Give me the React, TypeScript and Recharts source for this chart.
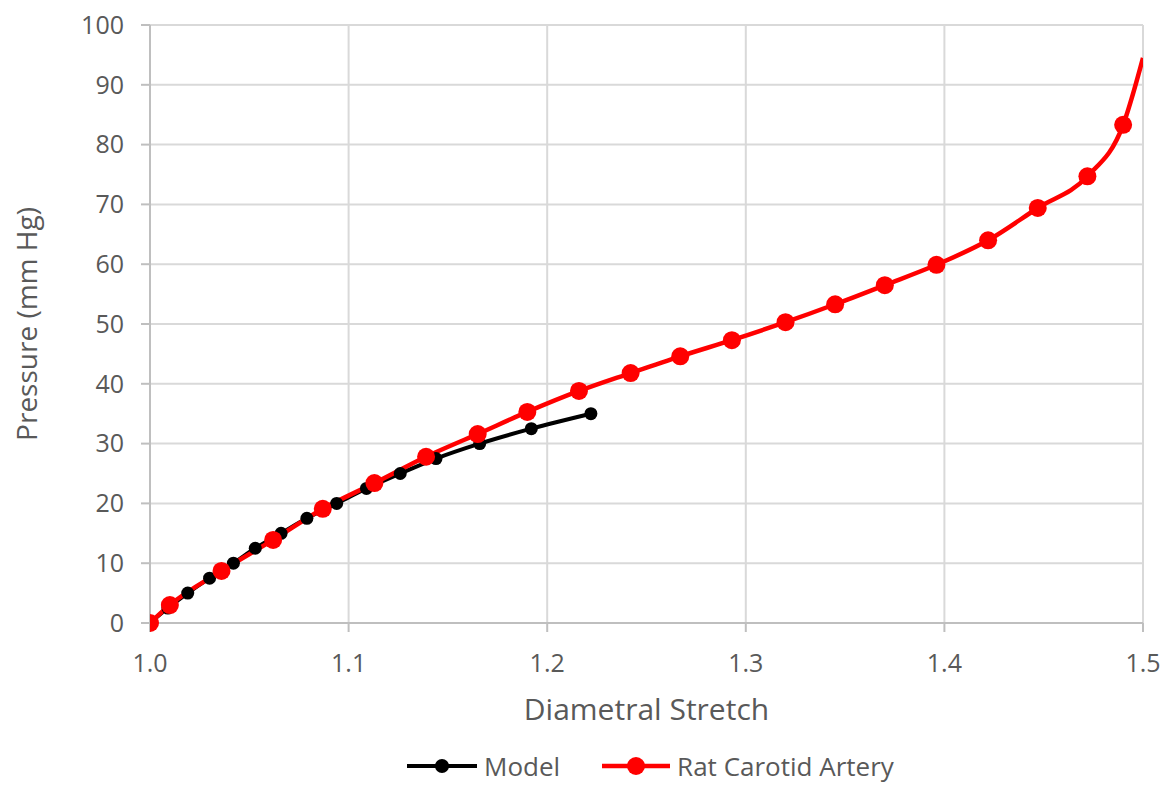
import React from 'react';
import { LineChart, Line, XAxis, YAxis, CartesianGrid, Legend } from 'recharts';

// Model curve: diametral stretch vs pressure
const modelStretch = [1.0, 1.009, 1.019, 1.03, 1.042, 1.053, 1.066, 1.079, 1.094, 1.109, 1.126, 1.144, 1.166, 1.192, 1.222];
const modelPressure = [0, 2.5, 5, 7.5, 10, 12.5, 15, 17.5, 20, 22.5, 25, 27.5, 30, 32.5, 35];

// Rat carotid artery measurements (last point is the curve end, no marker)
const ratStretch = [1.0, 1.01, 1.036, 1.062, 1.087, 1.113, 1.139, 1.165, 1.19, 1.216, 1.242, 1.267, 1.293, 1.32, 1.345, 1.37, 1.396, 1.422, 1.447, 1.472, 1.49, 1.5];
const ratPressure = [0, 3.0, 8.7, 13.9, 19.1, 23.4, 27.8, 31.6, 35.3, 38.8, 41.8, 44.6, 47.3, 50.3, 53.3, 56.5, 59.9, 64.0, 69.4, 74.7, 83.3, 94.5];

const xTicks = [1.0, 1.1, 1.2, 1.3, 1.4, 1.5];
const yTicks = [0, 10, 20, 30, 40, 50, 60, 70, 80, 90, 100];

const modelData = modelStretch.map((x, i) => ({ x, y: modelPressure[i] }));
const ratData = ratStretch.map((x, i) => ({ x, y: ratPressure[i] }));

const font = 'Open Sans, Liberation Sans, sans-serif';
const textColor = '#595959';

const LegendContent = () => (
  <div style={{ display: 'flex', alignItems: 'center', height: 63, boxSizing: 'border-box', paddingTop: 26, paddingBottom: 4, paddingLeft: 407, fontFamily: font, fontSize: 26, lineHeight: '30px', color: textColor }}>
    <svg width={70} height={20} style={{ marginRight: 7 }}>
      <line x1={0} y1={10} x2={70} y2={10} stroke="#000" strokeWidth={4} />
      <circle cx={35} cy={10} r={7} fill="#000" />
    </svg>
    <span style={{ marginRight: 42 }}>Model</span>
    <svg width={68} height={22} style={{ marginRight: 7 }}>
      <line x1={0} y1={11} x2={68} y2={11} stroke="#ff0000" strokeWidth={4.5} />
      <circle cx={34} cy={11} r={9} fill="#ff0000" />
    </svg>
    <span>Rat Carotid Artery</span>
  </div>
);

const redDot = (props: any) => {
  const { cx, cy, index } = props;
  if (index === ratData.length - 1) return <g key={`r${index}`} />;
  return <circle key={`r${index}`} cx={cx} cy={cy} r={9} fill="#ff0000" />;
};

export default function App() {
  return (
    <div style={{ position: 'absolute', left: 0, top: 0, background: '#fff' }}>
      <LineChart width={1164} height={786} margin={{ top: 25, right: 21, bottom: 0, left: 0 }}>
        <CartesianGrid stroke="#d9d9d9" strokeWidth={2} />
        <XAxis
          type="number"
          dataKey="x"
          domain={[1.0, 1.5]}
          ticks={xTicks}
          tickFormatter={(v: number) => v.toFixed(1)}
          allowDataOverflow
          height={100}
          stroke="#bfbfbf"
          strokeWidth={2}
          tickSize={9}
          tickMargin={22}
          tick={{ fill: textColor, fontSize: 25, fontFamily: font }}
          label={{ value: 'Diametral Stretch', position: 'insideTop', offset: 76, fill: textColor, fontSize: 30, fontFamily: font }}
        />
        <YAxis
          type="number"
          domain={[0, 100]}
          ticks={yTicks}
          width={150}
          stroke="#bfbfbf"
          strokeWidth={2}
          tickSize={9}
          tickMargin={17}
          tick={{ fill: textColor, fontSize: 25, fontFamily: font }}
          label={{ value: 'Pressure (mm Hg)', angle: -90, position: 'insideLeft', offset: 27, fill: textColor, fontSize: 28, fontFamily: font, style: { textAnchor: 'middle' } }}
        />
        <Legend verticalAlign="bottom" content={<LegendContent />} />
        <Line
          data={modelData}
          dataKey="y"
          type="monotone"
          stroke="#000"
          strokeWidth={4}
          dot={{ r: 6.5, fill: '#000', stroke: 'none' }}
          isAnimationActive={false}
        />
        <Line
          data={ratData}
          dataKey="y"
          type="monotone"
          stroke="#ff0000"
          strokeWidth={4.5}
          dot={redDot}
          isAnimationActive={false}
        />
      </LineChart>
    </div>
  );
}
